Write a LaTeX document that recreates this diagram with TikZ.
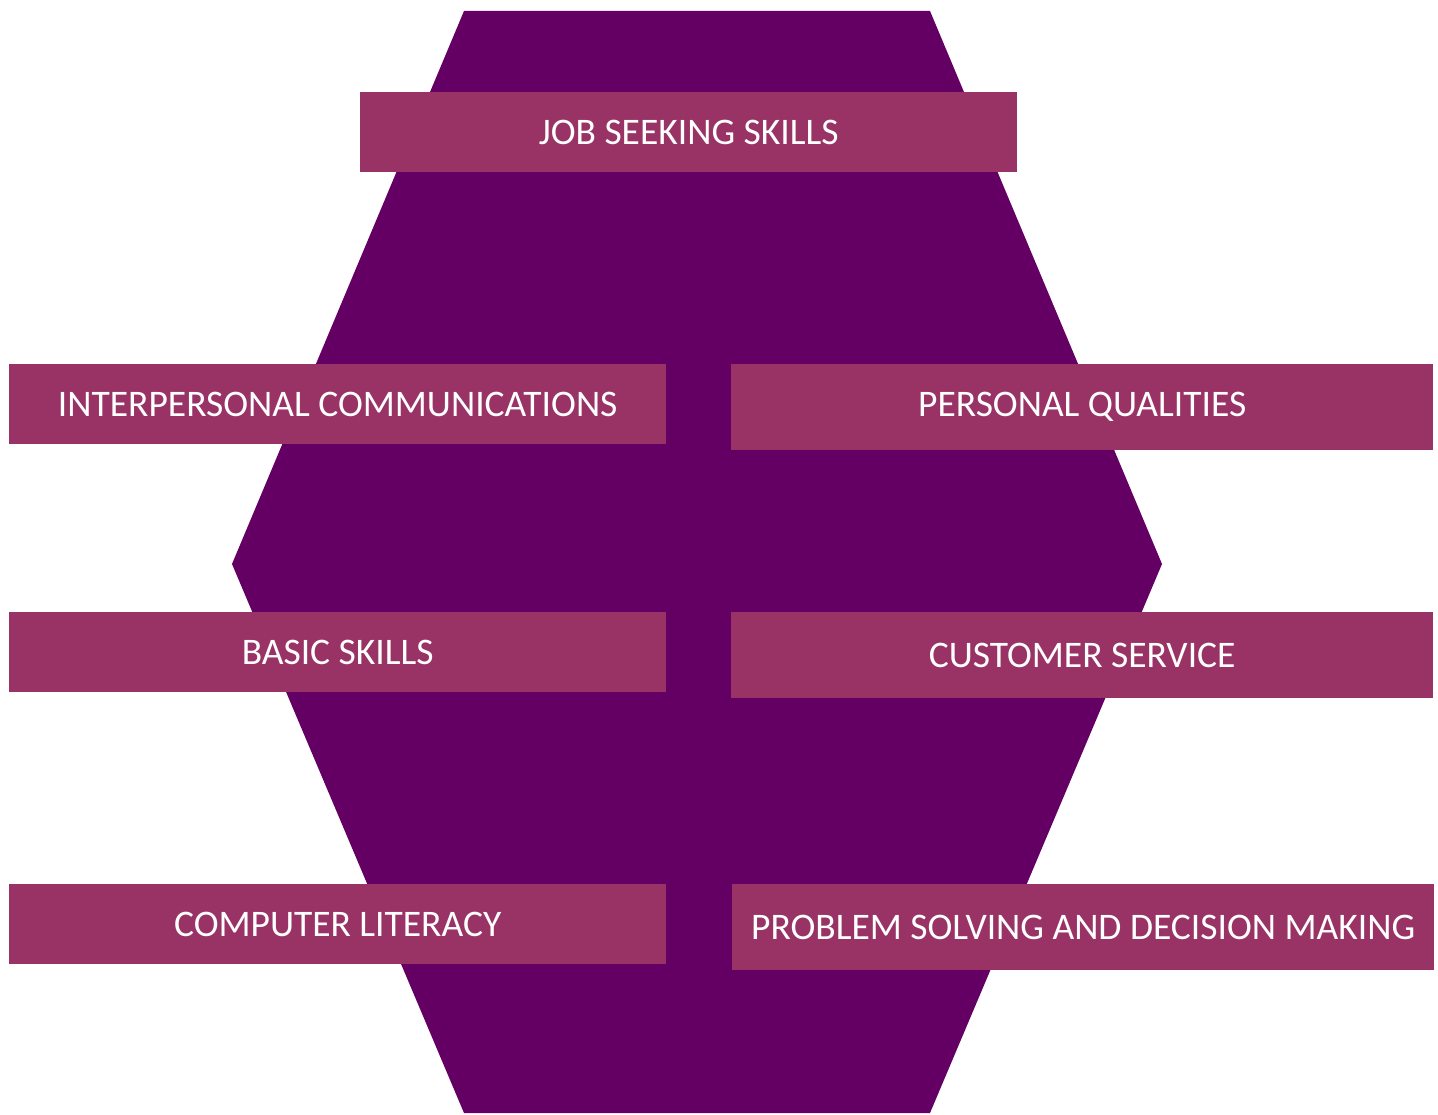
\documentclass[tikz,border=0pt]{standalone}
\usepackage{fontspec}
\setmainfont{Carlito}
\definecolor{hexc}{HTML}{640064}
\definecolor{boxc}{HTML}{993366}
\tikzset{
  lbl/.style={fill=boxc, text=white, inner sep=0pt, font=\fontsize{37.5}{40}\selectfont, anchor=north west, align=center},
}
\begin{document}
\begin{tikzpicture}[x=1pt,y=-1pt]
\useasboundingbox (0,0) rectangle (1438,1115);
\fill[hexc] (464,11) -- (930,11) -- (1162,564) -- (930,1113) -- (464,1113) -- (232,564) -- cycle;
\node[lbl, minimum width=657pt, minimum height=80pt] (job) at (360,92) {JOB SEEKING SKILLS};
\node[lbl, minimum width=657pt, minimum height=80pt] (inter) at (9,364) {INTERPERSONAL COMMUNICATIONS};
\node[lbl, minimum width=702pt, minimum height=86pt] (pers) at (731,364) {PERSONAL QUALITIES};
\node[lbl, minimum width=657pt, minimum height=80pt] (basic) at (9,612) {BASIC SKILLS};
\node[lbl, minimum width=702pt, minimum height=86pt] (cust) at (731,612) {CUSTOMER SERVICE};
\node[lbl, minimum width=657pt, minimum height=80pt] (comp) at (9,884) {COMPUTER LITERACY};
\node[lbl, minimum width=702pt, minimum height=86pt] (prob) at (732,884) {PROBLEM SOLVING AND DECISION MAKING};
\end{tikzpicture}
\end{document}
